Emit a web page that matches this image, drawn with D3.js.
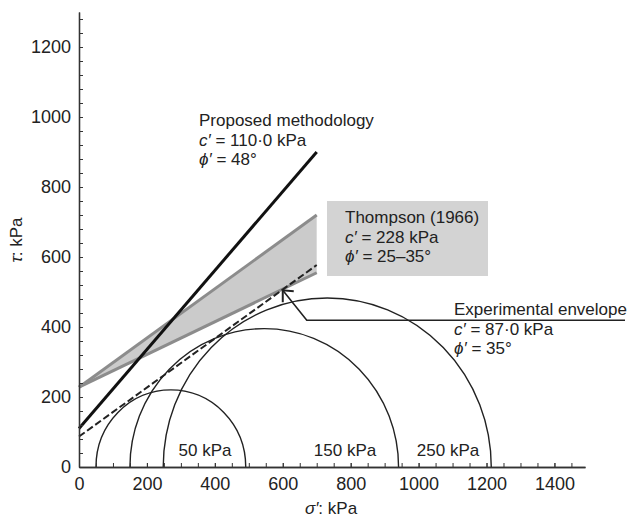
<!DOCTYPE html>
<html><head><meta charset="utf-8">
<script src="https://cdnjs.cloudflare.com/ajax/libs/d3/7.8.5/d3.min.js"></script>
<style>
body{margin:0;background:#fff;}
svg{display:block;font-family:"Liberation Sans",Arial,sans-serif;}
</style></head>
<body><svg id="c" width="631" height="521"></svg>
<script>
// ---- data (σ′, τ in kPa) ----
const xTicks = [0,200,400,600,800,1000,1200,1400];
const yTicks = [0,200,400,600,800,1000,1200];
const proposedLine = [[0,110],[700,900]];
const thompsonUpper = [[0,228],[700,720]];
const thompsonLower = [[0,228],[700,555]];
const experimentalLine = [[0,87],[700,577]];
const circleLabels = ["50 kPa","150 kPa","250 kPa"];
const sigma3 = [50,150,248];     // circle left foot
const sigma1 = [491,941,1214];   // circle right foot
const arrowTip = [600,505];

const svg = d3.select("#c");
const x = d3.scaleLinear().domain([0,1490]).range([79,585]);
const y = d3.scaleLinear().domain([0,1300]).range([467,12]);
const ink = "#222";

// Thompson band
const band = thompsonUpper.concat(thompsonLower.slice().reverse());
svg.append("path").attr("d", d3.line().x(d=>x(d[0])).y(d=>y(d[1]))(band)+"Z")
  .attr("fill","#cbcbcb").attr("stroke","none");

// circles
sigma3.forEach((s3,i)=>{
  const s1 = sigma1[i], c=(s1+s3)/2, r=(s1-s3)/2;
  const rx = x(s1)-x(c), ry = y(0)-y(r);
  svg.append("path")
    .attr("d",`M${x(s3)},${y(0)} A${rx},${ry} 0 0 1 ${x(s1)},${y(0)}`)
    .attr("fill","none").attr("stroke",ink).attr("stroke-width",1.4);
});

const ln = d3.line().x(d=>x(d[0])).y(d=>y(d[1]));
[thompsonUpper,thompsonLower].forEach(l=>{
  svg.append("path").attr("d",ln(l)).attr("fill","none")
    .attr("stroke","#8c8c8c").attr("stroke-width",3);
});
svg.append("path").attr("d",ln(experimentalLine)).attr("fill","none")
  .attr("stroke",ink).attr("stroke-width",2).attr("stroke-dasharray","7,3");
svg.append("path").attr("d",ln(proposedLine)).attr("fill","none")
  .attr("stroke","#111").attr("stroke-width",3);

// axes
const yAx = svg.append("g").attr("transform",`translate(${x(0)},0)`);
yAx.call(d3.axisLeft(y).tickValues(d3.range(0,1300,40)).tickFormat("").tickSizeInner(-4).tickSizeOuter(0));
const yAx2 = svg.append("g").attr("transform",`translate(${x(0)},0)`);
yAx2.call(d3.axisLeft(y).tickValues(yTicks).tickFormat(d3.format("d")).tickSizeInner(-4).tickSizeOuter(0).tickPadding(8));
const xAx = svg.append("g").attr("transform",`translate(0,${y(0)})`);
xAx.call(d3.axisBottom(x).tickValues(d3.range(0,1490,50)).tickFormat("").tickSizeInner(-4).tickSizeOuter(0));
const xAx2 = svg.append("g").attr("transform",`translate(0,${y(0)})`);
xAx2.call(d3.axisBottom(x).tickValues(xTicks).tickFormat(d3.format("d")).tickSizeInner(-4).tickSizeOuter(0).tickPadding(10));
svg.selectAll(".domain").attr("stroke","#333").attr("stroke-width",1.3);
svg.selectAll(".tick line").attr("stroke","#333");
svg.selectAll(".tick text").attr("font-size",18).attr("fill",ink).attr("font-family","Liberation Sans, Arial, sans-serif");

// axis titles
const yl = svg.append("text").attr("transform","translate(22,240) rotate(-90)")
  .attr("text-anchor","middle").attr("font-size",17).attr("fill",ink);
yl.append("tspan").attr("font-style","italic").text("τ");
yl.append("tspan").text(": kPa");
const xl = svg.append("text").attr("x",331).attr("y",514)
  .attr("text-anchor","middle").attr("font-size",17).attr("fill",ink);
xl.append("tspan").attr("font-style","italic").text("σ′");
xl.append("tspan").text(": kPa");

// circle labels
const labX = [205,345,448];
circleLabels.forEach((t,i)=>{
  svg.append("text").attr("x",labX[i]).attr("y",456).attr("text-anchor","middle")
    .attr("font-size",17).attr("fill",ink).text(t);
});

function block(x0,y0,lines){
  lines.forEach((l,i)=>{
    const t = svg.append("text").attr("x",x0).attr("y",y0+i*19.5)
      .attr("font-size",17).attr("fill",ink);
    l.forEach(p=>{
      const s=t.append("tspan").text(p[0]);
      if(p[1]) s.attr("font-style","italic");
    });
  });
}
block(199,126,[[["Proposed methodology"]],[["c′",1],[" = 110·0 kPa"]],[["ϕ′",1],[" = 48°"]]]);

// Thompson box
svg.append("rect").attr("x",327).attr("y",201).attr("width",161).attr("height",75).attr("fill","#d3d3d3");
block(345,223,[[["Thompson (1966)"]],[["c′",1],[" = 228 kPa"]],[["ϕ′",1],[" = 25–35°"]]]);

// Experimental
block(454,315,[[["Experimental envelope"]],[["c′",1],[" = 87·0 kPa"]],[["ϕ′",1],[" = 35°"]]]);
const tx=x(arrowTip[0]), ty=y(arrowTip[1]);
svg.append("path").attr("d",`M${tx},${ty} L${tx+24},${ty+30} L625,${ty+30}`)
  .attr("fill","none").attr("stroke",ink).attr("stroke-width",1.6);
svg.append("path").attr("d",`M${tx+11},${ty+1} L${tx},${ty} L${tx},${ty+12}`)
  .attr("fill","none").attr("stroke",ink).attr("stroke-width",2);
</script></body></html>
